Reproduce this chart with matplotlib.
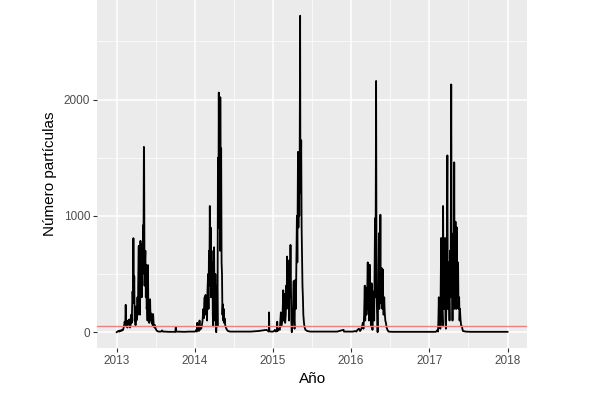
import numpy as np
import pandas as pd
import matplotlib
matplotlib.use("Agg")
import matplotlib.pyplot as plt
import matplotlib.dates as mdates

# day of year offsets and particle counts, one pair of lists per year
days_2013 = [0, 3, 8, 12, 16, 20, 24, 28, 31, 34, 37, 40, 42, 44, 47, 50, 53, 56, 59, 62,
             65, 68, 70, 72, 74, 76, 78, 80, 82, 84, 86, 88, 90, 92, 95, 97, 99, 101, 103, 105,
             107, 109, 111, 113, 115, 117, 119, 121, 123, 125, 127, 128, 130, 132, 134, 136, 138, 140, 142, 144,
             146, 148, 150, 152, 154, 156, 158, 160, 162, 164, 166, 168, 170, 173, 176, 179, 182, 186, 189, 196,
             207, 212, 216, 225, 243, 274, 276, 278, 317, 340, 364]
vals_2013 = [0, 5, 10, 5, 15, 10, 20, 15, 30, 50, 90, 60, 235, 50, 80, 40, 100, 70, 110, 40,
             60, 150, 80, 200, 350, 250, 808, 300, 480, 100, 150, 60, 220, 100, 120, 300, 150, 500, 742, 200,
             350, 150, 785, 400, 600, 300, 760, 500, 920, 700, 1593, 1550, 400, 600, 700, 300, 577, 200, 250, 100,
             577, 150, 200, 80, 200, 283, 120, 100, 160, 80, 130, 60, 155, 60, 40, 60, 30, 15, 10, 5,
             5, 15, 5, 5, 3, 3, 45, 5, 3, 5, 5]

days_2014 = [0, 4, 7, 9, 11, 13, 16, 19, 22, 24, 26, 30, 33, 36, 38, 40, 42, 44, 46, 48,
             50, 52, 55, 57, 59, 62, 64, 66, 68, 70, 72, 74, 76, 78, 80, 82, 84, 86, 88, 90,
             92, 94, 96, 98, 100, 102, 104, 106, 108, 110, 112, 114, 116, 118, 119, 121, 123, 125, 127, 129,
             131, 133, 135, 137, 139, 142, 145, 150, 155, 165, 200, 260, 298, 316, 335, 346, 347, 348, 355, 364]
vals_2014 = [5, 10, 20, 5, 80, 20, 30, 10, 100, 20, 40, 30, 60, 100, 150, 200, 120, 250, 300, 200,
             320, 150, 250, 100, 350, 500, 200, 700, 400, 1085, 500, 900, 300, 700, 300, 600, 150, 50, 400, 730,
             200, 100, 500, 200, 0, 200, 400, 50, 1500, 900, 2060, 1000, 1600, 700, 2020, 900, 1580, 600, 500, 150,
             240, 100, 200, 80, 120, 60, 40, 20, 10, 5, 5, 5, 10, 15, 20, 5, 170, 10, 5, 5]

days_2015 = [0, 5, 9, 14, 18, 20, 22, 27, 32, 37, 39, 42, 45, 48, 50, 52, 55, 57, 60, 62,
             64, 66, 68, 71, 73, 75, 77, 79, 82, 84, 86, 88, 91, 93, 95, 97, 99, 101, 103, 105,
             107, 110, 112, 114, 117, 119, 121, 123, 125, 127, 128, 130, 132, 134, 136, 138, 140, 142, 145, 148,
             152, 160, 174, 250, 300, 330, 332, 340, 364]
vals_2015 = [5, 10, 20, 5, 10, 90, 10, 30, 20, 170, 50, 80, 150, 360, 100, 200, 330, 80, 150, 400,
             200, 650, 250, 300, 500, 100, 620, 300, 750, 400, 100, 0, 200, 100, 300, 440, 100, 30, 300, 450,
             200, 700, 1000, 600, 1550, 900, 1300, 1000, 1500, 2720, 1600, 1200, 1650, 900, 650, 400, 300, 150, 80, 40,
             20, 10, 5, 5, 5, 20, 5, 5, 5]

days_2016 = [0, 10, 18, 25, 30, 37, 42, 46, 50, 55, 58, 61, 64, 66, 68, 70, 72, 75, 78, 80,
             82, 84, 87, 89, 91, 93, 96, 98, 100, 103, 106, 108, 110, 112, 114, 117, 119, 121, 124, 127,
             130, 132, 135, 137, 139, 141, 144, 146, 148, 150, 152, 155, 157, 160, 163, 166, 170, 175, 192, 364]
vals_2016 = [5, 5, 10, 5, 20, 30, 10, 20, 40, 80, 30, 150, 400, 100, 250, 380, 150, 300, 600, 200,
             300, 100, 580, 200, 250, 50, 420, 100, 20, 200, 350, 100, 500, 980, 300, 2160, 400, 200, 0, 300,
             850, 200, 400, 1010, 300, 250, 550, 200, 540, 300, 150, 300, 180, 100, 80, 40, 20, 5, 3, 3]

days_2017 = [0, 29, 35, 38, 40, 42, 44, 46, 49, 51, 53, 55, 57, 59, 62, 64, 66, 68, 70, 73,
             75, 77, 79, 81, 84, 86, 88, 90, 92, 94, 97, 99, 102, 104, 106, 108, 110, 112, 114, 116,
             118, 120, 122, 124, 126, 128, 131, 134, 136, 139, 141, 143, 145, 148, 152, 155, 157, 170, 194, 365]
vals_2017 = [3, 3, 10, 20, 5, 100, 300, 50, 150, 30, 400, 810, 100, 200, 50, 1085, 300, 200, 500, 810,
             100, 30, 200, 500, 1520, 200, 600, 400, 300, 100, 700, 300, 2130, 600, 350, 100, 400, 850, 300, 1460,
             200, 600, 950, 500, 200, 900, 300, 600, 200, 300, 100, 200, 120, 60, 50, 20, 10, 5, 3, 3]

years = [2013, 2014, 2015, 2016, 2017]
umbral = 50

all_days = [days_2013, days_2014, days_2015, days_2016, days_2017]
all_vals = [vals_2013, vals_2014, vals_2015, vals_2016, vals_2017]

fechas = []
valores = []
for y, d, v in zip(years, all_days, all_vals):
    fechas += list(pd.Timestamp(f"{y}-01-01") + pd.to_timedelta(d, unit="D"))
    valores += v

plt.rcParams['font.family'] = ['Liberation Sans', 'DejaVu Sans']

fig = plt.figure(figsize=(6.15, 3.95), dpi=100)
ax = fig.add_axes([0.158, 0.119, 0.699, 0.881])
ax.set_facecolor('#ebebeb')

ax.plot(fechas, valores, color='black', lw=1.3, zorder=3)
ax.axhline(umbral, color='#f08080', lw=1.0, zorder=4)

ax.set_xticks([mdates.date2num(pd.Timestamp(f"{y}-01-01")) for y in range(2013, 2019)])
ax.set_xticklabels([str(y) for y in range(2013, 2019)])
ax.set_xticks([mdates.date2num(pd.Timestamp(f"{y}-07-02")) for y in range(2013, 2018)], minor=True)
ax.set_yticks([0, 1000, 2000])
ax.set_yticks([500, 1500, 2500], minor=True)

x0 = mdates.date2num(pd.Timestamp("2013-01-01"))
x1 = mdates.date2num(pd.Timestamp("2018-01-01"))
pad = (x1 - x0) * 0.05
ax.set_xlim(x0 - pad, x1 + pad)
ax.set_ylim(-136, 2856)

ax.grid(which='major', color='white', lw=1.1)
ax.grid(which='minor', color='white', lw=0.5)
ax.set_axisbelow(True)
for s in ax.spines.values():
    s.set_visible(False)
ax.tick_params(which='major', length=3, color='#333333', labelcolor='#4d4d4d', labelsize=8.5, pad=2)
ax.tick_params(which='minor', length=0)

ax.set_xlabel("Año", fontsize=11, labelpad=4)
ax.set_ylabel("Número partículas", fontsize=11, labelpad=5)

fig.savefig("out.png", dpi=100, facecolor='white')
